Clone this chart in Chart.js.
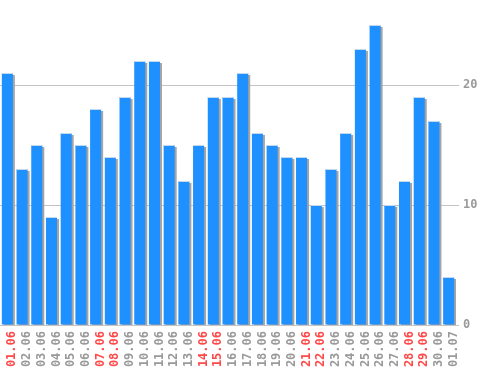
<!DOCTYPE html>
<html>
<head>
<meta charset="utf-8">
<script src="https://cdn.jsdelivr.net/npm/chart.js@4/dist/chart.umd.min.js"></script>
<style>
  html, body { margin: 0; padding: 0; background: #fff; }
</style>
</head>
<body>
<canvas id="myChart" width="498" height="370"></canvas>
<script>
var days = ["01.06","02.06","03.06","04.06","05.06","06.06","07.06","08.06","09.06","10.06",
  "11.06","12.06","13.06","14.06","15.06","16.06","17.06","18.06","19.06","20.06",
  "21.06","22.06","23.06","24.06","25.06","26.06","27.06","28.06","29.06","30.06","01.07"];
var counts = [21, 13, 15, 9, 16, 15, 18, 14, 19, 22,
  22, 15, 12, 15, 19, 19, 21, 16, 15, 14,
  14, 10, 13, 16, 23, 25, 10, 12, 19, 17, 4];
var redDays = ["01.06","07.06","08.06","14.06","15.06","21.06","22.06","28.06","29.06"];
var yTicks = [0, 10, 20];

// grey drop shadow under the bars + pale line on top of each bar
var barShadow = {
  id: "barShadow",
  beforeDatasetsDraw: function(chart) {
    var ctx = chart.ctx;
    ctx.save();
    ctx.shadowColor = "#a4a4a4";
    ctx.shadowOffsetX = 2;
    ctx.shadowOffsetY = 2;
    ctx.shadowBlur = 0;
  },
  afterDatasetsDraw: function(chart) {
    var ctx = chart.ctx;
    ctx.restore();
    ctx.save();
    ctx.fillStyle = "#c6d8ec";
    chart.getDatasetMeta(0).data.forEach(function(bar) {
      ctx.fillRect(bar.x - bar.width / 2, bar.y, bar.width, 1);
    });
    ctx.restore();
  }
};

new Chart("myChart", {
  type: "bar",
  data: {
    labels: days,
    datasets: [{
      data: counts,
      backgroundColor: "#1e90ff",
      borderWidth: 0,
      barPercentage: 1,
      categoryPercentage: 0.75
    }]
  },
  plugins: [barShadow],
  options: {
    responsive: false,
    animation: false,
    layout: {padding: {top: 1, left: -3, right: 0, bottom: 0}},
    plugins: {legend: {display: false}, tooltip: {enabled: false}},
    scales: {
      x: {
        grid: {display: false, drawTicks: false},
        border: {display: false},
        afterFit: function(scale) { scale.height = 45; },
        ticks: {
          autoSkip: false,
          minRotation: 90,
          maxRotation: 90,
          padding: 6,
          labelOffset: 5,
          font: {family: "DejaVu Sans Mono", size: 12, weight: "bold"},
          color: function(c) {
            return redDays.indexOf(days[c.index]) >= 0 ? "#ff4a4a" : "#9a9a9a";
          }
        }
      },
      y: {
        position: "right",
        min: 0,
        max: 27,
        afterBuildTicks: function(scale) {
          scale.ticks = yTicks.map(function(v) { return {value: v}; });
        },
        afterFit: function(scale) {
          scale.width = 42;
          scale.paddingTop = 0;
          scale.paddingBottom = 0;
        },
        grid: {color: "#c4c4c4", tickLength: 3},
        border: {display: false},
        ticks: {
          padding: 4,
          font: {family: "DejaVu Sans Mono", size: 12, weight: "bold"},
          color: "#9a9a9a"
        }
      }
    }
  }
});
</script>
</body>
</html>
